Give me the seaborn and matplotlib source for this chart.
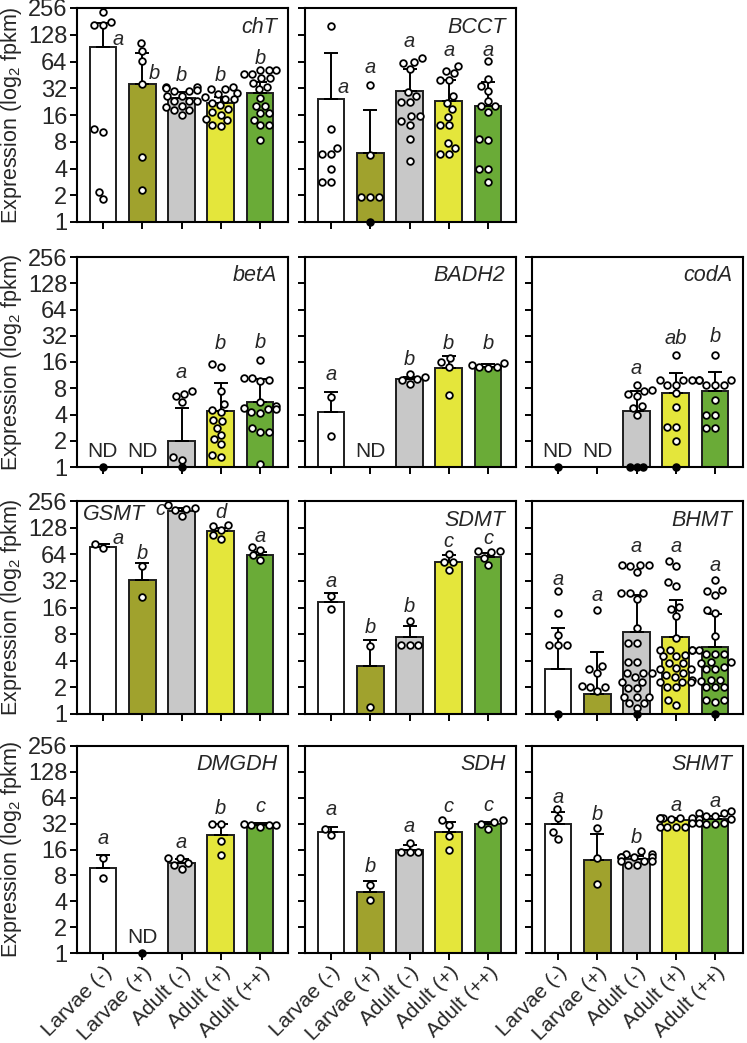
import numpy as np
import pandas as pd
import matplotlib
matplotlib.use('Agg')
import matplotlib.pyplot as plt
from matplotlib.ticker import NullLocator
import seaborn as sns

sns.set_style('ticks')
plt.rcParams['font.family'] = ['Liberation Sans', 'DejaVu Sans']
plt.rcParams['mathtext.fontset'] = 'custom'
plt.rcParams['mathtext.rm'] = 'Liberation Sans'
plt.rcParams['mathtext.it'] = 'Liberation Sans:italic'

nan = np.nan
groups = ['Larvae (-)', 'Larvae (+)', 'Adult (-)', 'Adult (+)', 'Adult (++)']
colors = ['#ffffff', '#a0a22d', '#c8c8c8', '#e4e63b', '#6aab37']
yticks = [1, 2, 4, 8, 16, 32, 64, 128, 256]

# valeurs (0 = point nul, dessiné en noir sur l'axe)
chT_bar = [94, 36, 25, 21.6, 28.6]
chT_cap = [175, 79, 29, 25.5, 38]
chT_pts = [[228, 180, 165, 165, 11, 10.4, 2.2, 1.8],
           [103, 83, 65, 35.5, 5.4, 2.3],
           [33.4, 33.4, 32.6, 30.6, 29.8, 29.8, 26.2, 26.2, 23, 23, 23, 20.2, 19.8, 18.2, 18.2, 16.2],
           [33.4, 31.7, 31.7, 28, 27.4, 25.5, 24.4, 24.4, 22, 20.5, 18.5, 17.3, 16.2, 14.5, 14, 12.4, 12],
           [51.7, 51.7, 51.7, 46.1, 46.1, 41.2, 41.2, 37.1, 33.4, 31.2, 25.1, 20.2, 20.2, 16.7, 16.7, 14.2, 12.2, 12.2, 8.4]]
chT_let = ['a', 'b', 'b', 'b', 'b']

BCCT_bar = [24.4, 6.0, 29.8, 22.8, 20.2]
BCCT_cap = [79, 18, 52.6, 40, 37.8]
BCCT_pts = [[159, 11, 6.8, 5.8, 5.8, 3.9, 2.8, 2.8],
            [34.6, 5.7, 1.92, 1.92, 1.92, 0],
            [70, 64, 61, 53, 29, 26, 22.4, 22.4, 15.5, 15.5, 13.6, 12.5, 8.7, 4.8],
            [57, 50, 47, 39.5, 39.5, 26, 22, 18.5, 15.3, 12.3, 12.3, 7.7, 6.8, 5.8, 5.8],
            [65, 41, 34, 30, 23, 20, 20, 17.4, 8.6, 8.3, 3.9, 3.9, 2.8]]
BCCT_let = ['a', 'a', 'a', 'a', 'a']

betA_bar = [nan, nan, 2.0, 4.4, 5.6]
betA_cap = [nan, nan, 4.8, 9.1, 10.3]
betA_pts = [[0], [],
            [7.5, 6.9, 6.5, 5.5, 1.3, 1.19, 0],
            [15.3, 14.2, 7.4, 5.3, 4.5, 4.3, 3.5, 3.4, 2.8, 2.3, 2.1, 1.84, 1.38, 1.3],
            [17, 10.5, 10.5, 9.9, 9.6, 5.6, 5.0, 4.8, 4.6, 4.6, 4.3, 4.2, 2.8, 2.5, 2.5, 1.07]]
betA_let = ['', '', 'a', 'b', 'b']

BADH2_bar = [4.3, nan, 10.2, 13.6, 14.2]
BADH2_cap = [7.2, nan, 10.9, 18.8, 15]
BADH2_pts = [[6.4, 2.27], [],
             [11.6, 10.8, 10.2, 10.0, 9.0],
             [17.7, 16, 14.2, 6.7],
             [15.5, 14.8, 14.2, 14.2, 13.6]]
BADH2_let = ['a', '', 'b', 'b', 'b']

codA_bar = [nan, nan, 4.4, 7.0, 7.5]
codA_cap = [nan, nan, 7.4, 12, 12.2]
codA_pts = [[0], [],
            [8.8, 7.7, 7.4, 6.8, 6.5, 5.0, 4.8, 3.9, 0, 0, 0],
            [19.3, 9.9, 9.9, 9.9, 8.8, 8.8, 7.0, 4.9, 2.85, 2.85, 1.97, 0],
            [19.5, 9.9, 9.9, 9.9, 8.8, 8.8, 8.8, 5.9, 3.9, 3.9, 2.8, 2.8]]
codA_let = ['', '', 'a', 'ab', 'b']

GSMT_bar = [78, 33, 198, 118, 63]
GSMT_cap = [84, 51, 215, 128, 68]
GSMT_pts = [[76, 84], [47, 21],
            [232, 215, 209, 200, 174],
            [137, 133, 120, 105, 95],
            [78, 72, 62, 55]]
GSMT_let = ['a', 'b', 'c', 'd', 'a']

SDMT_bar = [18.5, 3.5, 7.35, 52.6, 60]
SDMT_cap = [23.4, 6.9, 9.8, 62.5, 66]
SDMT_pts = [[21.8, 15.4], [5.9, 1.2],
            [11.2, 6.0, 6.0, 6.0],
            [65, 52, 52, 43],
            [69, 69, 67, 58.5, 48]]
SDMT_let = ['a', 'b', 'b', 'c', 'c']

BHMT_bar = [3.2, 1.67, 8.4, 7.5, 5.66]
BHMT_cap = [9.5, 5.0, 22.4, 19.6, 13.5]
BHMT_pts = [[24.4, 13.9, 7.9, 6.0, 6.0, 6.0, 0],
            [15.1, 3.5, 3.2, 2.9, 2.08, 2.04, 2.04, 1.8],
            [49, 49, 49, 47, 40, 23.4, 23.4, 23.4, 20, 9.4, 6.3, 6.3, 3.9, 3.9, 2.9, 2.9, 2.9,
             2.65, 2.33, 2.33, 1.96, 1.96, 1.57, 1.57, 1.57, 1.32, 1.32, 1.16, 0],
            [53.4, 47, 31.2, 27.9, 16.2, 15.4, 12.9, 7.2, 5.3, 5.3, 5.3, 5.3, 4.7, 4.5, 4.5, 3.8,
             3.8, 3.3, 3.2, 3.2, 2.9, 2.77, 2.65, 2.43, 2.33, 2.33, 2.33, 2.04, 2.0, 1.44, 1.27],
            [33, 25.5, 24.4, 22, 15.1, 13.9, 7.7, 5.3, 4.8, 4.8, 4.8, 3.9, 3.9, 3.8, 3.4, 3.2, 3.2,
             2.43, 2.43, 2.39, 2.0, 2.0, 2.0, 1.44, 1.44, 1.38, 0]]
BHMT_let = ['a', 'a', 'a', 'a', 'a']

DMGDH_bar = [9.85, nan, 11.2, 23.6, 30.8]
DMGDH_cap = [13.8, nan, 12.5, 32, 32.5]
DMGDH_pts = [[12.6, 7.4], [0],
             [12.6, 12.6, 11.1, 10.6, 9.4],
             [31.3, 31.3, 20, 13.8],
             [32, 31, 31, 30.5, 29.5]]
DMGDH_let = ['a', '', 'a', 'b', 'c']

SDH_bar = [25.7, 5.14, 16.0, 25.7, 32]
SDH_cap = [28.9, 6.8, 18, 33.6, 33.5]
SDH_pts = [[27.6, 23.5], [6.2, 4.15],
           [18.8, 14.8, 14.8, 14.8],
           [35.1, 30.7, 23.1, 16],
           [35, 33, 32, 28]]
SDH_let = ['a', 'b', 'a', 'c', 'c']

SHMT_bar = [32, 12, 12.3, 34.8, 36.5]
SHMT_cap = [44, 24.4, 13.5, 37, 39]
SHMT_pts = [[46.8, 37.4, 25.5, 21.3], [28.6, 12.8, 6.3],
            [15.4, 14, 14, 13.2, 13.2, 13.2, 13.2, 11.8, 11.8, 11.8, 10.6, 10.6],
            [37.4, 37.4, 37.4, 37.4, 37.4, 35.8, 32.7, 29.4, 29.4, 29.4, 29.4],
            [44.7, 42.7, 42.7, 39.7, 39.7, 35.8, 35.8, 32.7, 32.7, 31.3, 31.3]]
SHMT_let = ['a', 'b', 'b', 'a', 'a']

# position des lettres (hauteur en fpkm, décalage en x)
let_y = {
    'chT': [112, 47, 44, 44, 70], 'BCCT': [32.6, 55, 107, 85, 85],
    'betA': [1, 1, 12, 25.8, 27], 'BADH2': [11.5, 1, 17.2, 25.8, 25.8],
    'codA': [1, 1, 13.6, 30, 31], 'GSMT': [96, 66, 205, 188, 101],
    'SDMT': [31.7, 9.6, 16.5, 89, 96], 'BHMT': [33, 21.8, 78, 78, 48],
    'DMGDH': [21.2, 1, 19.4, 48, 50], 'SDH': [46.8, 10.1, 29.4, 50, 52],
    'SHMT': [64, 40.9, 21.9, 52, 58],
}
let_dx = {'chT': [0.38, 0.32, 0, 0, 0], 'BCCT': [0.3, 0, 0, 0, 0],
          'GSMT': [0.38, 0, -0.55, 0, 0]}

panels = [
    (0, 0, 'chT', chT_bar, chT_cap, chT_pts, chT_let),
    (0, 1, 'BCCT', BCCT_bar, BCCT_cap, BCCT_pts, BCCT_let),
    (1, 0, 'betA', betA_bar, betA_cap, betA_pts, betA_let),
    (1, 1, 'BADH2', BADH2_bar, BADH2_cap, BADH2_pts, BADH2_let),
    (1, 2, 'codA', codA_bar, codA_cap, codA_pts, codA_let),
    (2, 0, 'GSMT', GSMT_bar, GSMT_cap, GSMT_pts, GSMT_let),
    (2, 1, 'SDMT', SDMT_bar, SDMT_cap, SDMT_pts, SDMT_let),
    (2, 2, 'BHMT', BHMT_bar, BHMT_cap, BHMT_pts, BHMT_let),
    (3, 0, 'DMGDH', DMGDH_bar, DMGDH_cap, DMGDH_pts, DMGDH_let),
    (3, 1, 'SDH', SDH_bar, SDH_cap, SDH_pts, SDH_let),
    (3, 2, 'SHMT', SHMT_bar, SHMT_cap, SHMT_pts, SHMT_let),
]

W, H = 747, 1043
row_top = [8, 257, 501, 746]
row_bot = [222, 467, 714, 953]
col_left = [77, 305, 532]
col_w = 211

fig = plt.figure(figsize=(W / 100, H / 100), dpi=100)

for r, c, name, bar, cap, pts, let in panels:
    ax = fig.add_axes([col_left[c] / W, 1 - row_bot[r] / H, col_w / W,
                       (row_bot[r] - row_top[r]) / H])
    ax.set_yscale('log', base=2)

    df_bar = pd.DataFrame({'group': groups, 'value': bar})
    sns.barplot(data=df_bar, x='group', y='value', hue='group', order=groups,
                hue_order=groups, palette=colors, saturation=1, width=0.68,
                edgecolor='#1e1e1e', linewidth=1.4, errorbar=None, legend=False,
                ax=ax, zorder=2)

    b = np.array(bar, dtype=float)
    cp = np.array(cap, dtype=float)
    x = np.arange(len(groups))
    ok = ~np.isnan(b)
    ax.errorbar(x[ok], b[ok], yerr=[np.zeros(ok.sum()), cp[ok] - b[ok]], fmt='none',
                ecolor='black', elinewidth=1.4, capsize=4.8, capthick=1.4, zorder=3)

    rows = [(g, v) for g, vals in zip(groups, pts) for v in vals if v > 0]
    dfp = pd.DataFrame(rows, columns=['group', 'value'])
    sns.swarmplot(data=dfp, x='group', y='value', order=groups, color='white',
                  edgecolor='black', linewidth=1.3, size=4.8, ax=ax, warn_thresh=1,
                  zorder=4)

    # valeurs nulles : points noirs sur l'axe
    for i, vals in enumerate(pts):
        nz = sum(1 for v in vals if v == 0)
        if nz:
            xs = i + (np.arange(nz) - (nz - 1) / 2) * 0.17
            ax.scatter(xs, np.ones(nz), s=26, color='black', zorder=5, clip_on=False)

    ly = let_y[name]
    dx = let_dx.get(name, [0] * 5)
    for i in range(5):
        if np.isnan(b[i]):
            ax.text(i, 1.5, 'ND', ha='center', va='center', fontsize=15)
        elif let[i]:
            ax.text(i + dx[i], ly[i], let[i], ha='center', va='center',
                    fontsize=14.5, style='italic')

    if name == 'GSMT':
        ax.text(0.03, 0.935, name, transform=ax.transAxes, ha='left', va='center',
                fontsize=15.5, style='italic')
    else:
        ax.text(0.95, 0.91, name, transform=ax.transAxes, ha='right', va='center',
                fontsize=15.5, style='italic')

    ax.set_ylim(1, 256)
    ax.set_xlim(-0.66, 4.71)
    ax.set_yticks(yticks)
    ax.yaxis.set_minor_locator(NullLocator())
    if c == 0:
        ax.set_yticklabels([str(t) for t in yticks])
        ax.set_ylabel('Expression (log$_2$ fpkm)', fontsize=15.5)
        ax.yaxis.set_label_coords(-0.25, 0.5)
    else:
        ax.set_yticklabels([])
        ax.set_ylabel('')
    ax.set_xlabel('')
    ax.set_xticks(x)
    if r == 3:
        ax.set_xticklabels(groups, rotation=45, ha='right', rotation_mode='anchor',
                           fontsize=15)
    else:
        ax.set_xticklabels([])
    for sp in ax.spines.values():
        sp.set_visible(True)
        sp.set_linewidth(1.5)
        sp.set_color('black')
    ax.tick_params(direction='out', length=5, width=1.4, color='black', pad=2)
    ax.tick_params(axis='y', labelsize=17)

fig.savefig('out.png', dpi=100)
